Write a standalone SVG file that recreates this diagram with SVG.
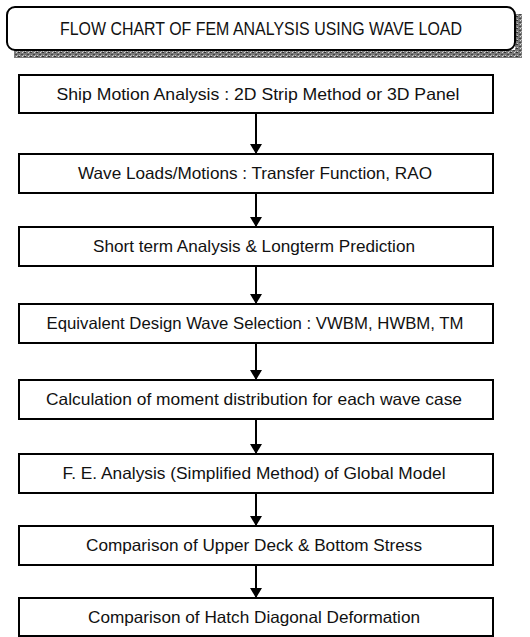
<svg xmlns="http://www.w3.org/2000/svg" width="530" height="637" viewBox="0 0 530 637">
<defs>
<pattern id="shade" width="6" height="4" patternUnits="userSpaceOnUse">
<rect width="6" height="4" fill="#7a7a7a"/>
<rect x="0" y="0" width="2" height="1" fill="#333"/>
<rect x="3" y="2" width="2" height="1" fill="#444"/>
<rect x="1" y="3" width="1" height="1" fill="#ccc"/>
<rect x="4" y="0" width="1" height="1" fill="#ddd"/>
<rect x="5" y="3" width="1" height="1" fill="#bbb"/>
</pattern>
<marker id="arr" viewBox="0 0 10 12" refX="10" refY="6" markerWidth="10" markerHeight="12" markerUnits="userSpaceOnUse" orient="auto">
<path d="M0,0 L10,6 L0,12 Z" fill="#000"/>
</marker>
</defs>
<style>
.box{fill:#fff;stroke:#000;stroke-width:2}
.t{font-family:"Liberation Sans",Arial,sans-serif;font-size:16.5px;fill:#111;text-anchor:middle}
.c{stroke:#000;stroke-width:2;fill:none}
</style>
<g id="title">
<rect x="14" y="50" width="508" height="8" fill="url(#shade)"/>
<rect x="515" y="14" width="7" height="44" fill="url(#shade)"/>
<rect x="7" y="7" width="508" height="43" rx="8" class="box"/>
<text x="261" y="35" class="t" style="font-size:17.5px" textLength="402" lengthAdjust="spacingAndGlyphs">FLOW CHART OF FEM ANALYSIS USING WAVE LOAD</text>
</g>
<g id="n1"><rect x="19" y="75" width="474" height="38" class="box"/><text x="258" y="100" class="t" textLength="403" lengthAdjust="spacingAndGlyphs">Ship Motion Analysis : 2D Strip Method or 3D Panel</text></g>
<g id="n2"><rect x="19" y="154" width="474" height="39" class="box"/><text x="255" y="179" class="t" textLength="354" lengthAdjust="spacingAndGlyphs">Wave Loads/Motions : Transfer Function, RAO</text></g>
<g id="n3"><rect x="19" y="227" width="474" height="39" class="box"/><text x="254" y="252" class="t" textLength="322" lengthAdjust="spacingAndGlyphs">Short term Analysis &amp; Longterm Prediction</text></g>
<g id="n4"><rect x="19" y="304" width="474" height="39" class="box"/><text x="255" y="329" class="t" textLength="417" lengthAdjust="spacingAndGlyphs">Equivalent Design Wave Selection : VWBM, HWBM, TM</text></g>
<g id="n5"><rect x="19" y="380" width="474" height="39" class="box"/><text x="254" y="405" class="t" textLength="416" lengthAdjust="spacingAndGlyphs">Calculation of moment distribution for each wave case</text></g>
<g id="n6"><rect x="19" y="454" width="474" height="39" class="box"/><text x="254" y="479" class="t" textLength="383" lengthAdjust="spacingAndGlyphs">F. E. Analysis (Simplified Method) of Global Model</text></g>
<g id="n7"><rect x="19" y="526" width="474" height="39" class="box"/><text x="254" y="551" class="t" textLength="336" lengthAdjust="spacingAndGlyphs">Comparison of Upper Deck &amp; Bottom Stress</text></g>
<g id="n8"><rect x="19" y="598" width="474" height="38" class="box"/><text x="254" y="623" class="t" textLength="332" lengthAdjust="spacingAndGlyphs">Comparison of Hatch Diagonal Deformation</text></g>
<g id="connectors">
<line x1="256" y1="113" x2="256" y2="154" class="c" marker-end="url(#arr)"/>
<line x1="256" y1="193" x2="256" y2="227" class="c" marker-end="url(#arr)"/>
<line x1="256" y1="266" x2="256" y2="304" class="c" marker-end="url(#arr)"/>
<line x1="256" y1="343" x2="256" y2="380" class="c" marker-end="url(#arr)"/>
<line x1="256" y1="419" x2="256" y2="454" class="c" marker-end="url(#arr)"/>
<line x1="256" y1="493" x2="256" y2="526" class="c" marker-end="url(#arr)"/>
<line x1="256" y1="565" x2="256" y2="598" class="c" marker-end="url(#arr)"/>
</g>
</svg>
